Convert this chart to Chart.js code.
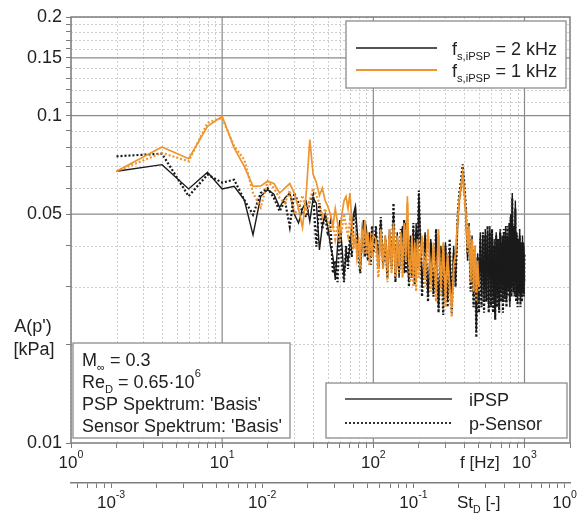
<!DOCTYPE html>
<html>
<head>
<meta charset="utf-8">
<script src="https://cdn.jsdelivr.net/npm/chart.js@4.4.0/dist/chart.umd.min.js"></script>
<style>
  body { margin: 0; background: #fff; }
  #spectrum { display: block; }
</style>
</head>
<body>
<canvas id="spectrum" width="581" height="515"></canvas>
<script>
// frequencies [Hz] of the plotted spectrum points
var freq2k = [2, 4, 6, 8, 10, 12, 14, 16, 18, 20, 22, 24, 26, 28, 30, 32, 34, 36, 38, 40,
    42, 44, 46, 48, 50, 52, 54, 56, 58, 60, 62, 64, 66, 68, 70, 72, 74, 76, 78, 80,
    82, 84, 86, 88, 90, 92, 94, 96, 98, 100,
    104, 108, 112, 116, 120, 124, 128, 132, 136, 140, 144, 148, 152, 156, 160, 164, 168, 172, 176, 180,
    184, 188, 192, 196, 200,
    210, 220, 230, 240, 250, 260, 270, 280, 290, 300, 310, 320, 330, 340, 350, 360, 370, 380, 390, 400,
    410, 420, 430, 440, 450, 460, 470, 480, 490, 500, 510, 520, 530, 540, 550, 560, 570, 580, 590, 600,
    610, 620, 630, 640, 650, 660, 670, 680, 690, 700, 710, 720, 730, 740, 750, 760, 770, 780, 790, 800,
    810, 820, 830, 840, 850, 860, 870, 880, 890, 900, 910, 920, 930, 940, 950, 960, 970, 980, 990, 1000];
var freq1k = freq2k.filter(function (f) { return f <= 500; });

// A(p') [kPa], f_s,iPSP = 2 kHz
var bPsp = [0.0676, 0.0708, 0.0597, 0.0671, 0.0597, 0.0608, 0.0553, 0.0432, 0.0567, 0.0594,
    0.0575, 0.0524, 0.056, 0.058, 0.050, 0.047, 0.052, 0.0547, 0.0475, 0.056,
    0.054, 0.0389, 0.046, 0.050, 0.046, 0.040, 0.0371, 0.0315, 0.040, 0.048,
    0.040, 0.0322, 0.038, 0.036, 0.040, 0.046, 0.050, 0.0528, 0.045, 0.040,
    0.0338, 0.040, 0.048, 0.042, 0.045, 0.039, 0.044, 0.038, 0.042, 0.040,
    0.044, 0.036, 0.048, 0.034, 0.043, 0.033, 0.045, 0.035, 0.050, 0.033,
    0.044, 0.032, 0.042, 0.046, 0.033, 0.047, 0.036, 0.031, 0.043, 0.033,
    0.045, 0.031, 0.047, 0.036, 0.057,
    0.030, 0.044, 0.028, 0.042, 0.029, 0.043, 0.026, 0.040, 0.028, 0.041,
    0.027, 0.039, 0.026, 0.040, 0.031, 0.046, 0.055, 0.060, 0.066, 0.058,
    0.050, 0.036, 0.047, 0.031, 0.043, 0.028, 0.040, 0.022, 0.038, 0.027,
    0.044, 0.028, 0.043, 0.027, 0.045, 0.029, 0.044, 0.026, 0.046, 0.028,
    0.043, 0.027, 0.042, 0.025, 0.044, 0.028, 0.041, 0.026, 0.045, 0.029,
    0.043, 0.027, 0.044, 0.028, 0.046, 0.027, 0.043, 0.029, 0.047, 0.026,
    0.050, 0.030, 0.058, 0.029, 0.046, 0.031, 0.055, 0.028, 0.044, 0.027,
    0.042, 0.029, 0.045, 0.027, 0.041, 0.028, 0.043, 0.029, 0.040, 0.031];
var bSen = [0.0751, 0.0765, 0.0567, 0.066, 0.0624, 0.0637, 0.0553, 0.0498, 0.058, 0.060,
    0.056, 0.051, 0.055, 0.0458, 0.058, 0.054, 0.051, 0.049, 0.055, 0.0573,
    0.0398, 0.054, 0.045, 0.050, 0.043, 0.047, 0.033, 0.036, 0.031, 0.046,
    0.035, 0.031, 0.040, 0.034, 0.043, 0.037, 0.048, 0.051, 0.040, 0.036,
    0.033, 0.042, 0.046, 0.037, 0.044, 0.036, 0.041, 0.035, 0.046, 0.038,
    0.046, 0.034, 0.049, 0.035, 0.042, 0.032, 0.043, 0.034, 0.054, 0.031,
    0.041, 0.033, 0.045, 0.034, 0.048, 0.033, 0.046, 0.030, 0.042, 0.032,
    0.047, 0.0305, 0.044, 0.034, 0.059,
    0.028, 0.043, 0.027, 0.041, 0.028, 0.045, 0.025, 0.039, 0.0246, 0.040,
    0.026, 0.042, 0.025, 0.038, 0.030, 0.048, 0.058, 0.063, 0.071, 0.062,
    0.052, 0.038, 0.045, 0.029, 0.042, 0.026, 0.039, 0.021, 0.037, 0.025,
    0.042, 0.026, 0.044, 0.025, 0.043, 0.027, 0.046, 0.025, 0.044, 0.026,
    0.045, 0.025, 0.040, 0.0238, 0.043, 0.026, 0.042, 0.025, 0.044, 0.027,
    0.041, 0.025, 0.045, 0.027, 0.043, 0.026, 0.046, 0.028, 0.042, 0.027,
    0.049, 0.028, 0.056, 0.030, 0.044, 0.028, 0.052, 0.027, 0.043, 0.026,
    0.040, 0.028, 0.043, 0.026, 0.040, 0.027, 0.0288, 0.041, 0.028, 0.038];

// A(p') [kPa], f_s,iPSP = 1 kHz
var oPsp = [0.0676, 0.0802, 0.0738, 0.0927, 0.0995, 0.0797, 0.070, 0.0608, 0.061, 0.063,
    0.062, 0.058, 0.060, 0.062, 0.058, 0.052, 0.0455, 0.058, 0.0845, 0.066,
    0.0625, 0.057, 0.060, 0.055, 0.0528, 0.050, 0.0458, 0.052, 0.047, 0.0439,
    0.050, 0.055, 0.0567, 0.052, 0.058, 0.048, 0.040, 0.042, 0.038, 0.041,
    0.0363, 0.045, 0.042, 0.048, 0.040, 0.044, 0.037, 0.042, 0.039, 0.043,
    0.042, 0.034, 0.045, 0.036, 0.043, 0.034, 0.045, 0.035, 0.047, 0.033,
    0.043, 0.035, 0.044, 0.034, 0.047, 0.038, 0.0567, 0.036, 0.033, 0.043,
    0.032, 0.041, 0.031, 0.042, 0.034,
    0.043, 0.032, 0.045, 0.031, 0.041, 0.029, 0.045, 0.030, 0.041, 0.028,
    0.038, 0.030, 0.026, 0.035, 0.038, 0.047, 0.056, 0.061, 0.067, 0.058,
    0.050, 0.040, 0.046, 0.033, 0.042, 0.031, 0.040, 0.029, 0.036, 0.030];
var oSen = [0.0676, 0.0769, 0.0725, 0.095, 0.0984, 0.0806, 0.0734, 0.058, 0.0524, 0.063,
    0.060, 0.056, 0.054, 0.059, 0.050, 0.052, 0.057, 0.051, 0.055, 0.060,
    0.057, 0.054, 0.049, 0.052, 0.048, 0.044, 0.047, 0.042, 0.046, 0.041,
    0.045, 0.050, 0.046, 0.043, 0.048, 0.042, 0.039, 0.043, 0.037, 0.040,
    0.034, 0.042, 0.039, 0.045, 0.038, 0.042, 0.035, 0.040, 0.037, 0.041,
    0.039, 0.032, 0.043, 0.034, 0.041, 0.031, 0.042, 0.033, 0.045, 0.032,
    0.041, 0.033, 0.042, 0.032, 0.045, 0.036, 0.054, 0.034, 0.031, 0.041,
    0.030, 0.039, 0.029, 0.040, 0.032,
    0.040, 0.030, 0.043, 0.029, 0.038, 0.027, 0.043, 0.028, 0.039, 0.026,
    0.036, 0.028, 0.0243, 0.033, 0.036, 0.044, 0.054, 0.059, 0.065, 0.056,
    0.048, 0.038, 0.044, 0.031, 0.040, 0.029, 0.038, 0.027, 0.034, 0.029];

// axes
var xTicks = [1, 2, 3, 4, 5, 6, 7, 8, 9, 10, 20, 30, 40, 50, 60, 70, 80, 90,
    100, 200, 300, 400, 500, 600, 700, 800, 900, 1000, 2000];
var xMajor = [10, 100, 1000];
var xLabels = [1, 10, 100, 1000];
var xLabelExp = ["0", "1", "2", "3"];
var yTicks = [0.01, 0.02, 0.03, 0.04, 0.05, 0.06, 0.07, 0.08, 0.09, 0.1,
    0.11, 0.12, 0.13, 0.14, 0.15, 0.16, 0.17, 0.18, 0.19, 0.2];
var yMajor = [0.05, 0.1, 0.15];
var yLabels = [0.01, 0.05, 0.1, 0.15, 0.2];
var stTicks = [0.0006, 0.0007, 0.0008, 0.0009, 0.001, 0.002, 0.003, 0.004, 0.005, 0.006, 0.007, 0.008, 0.009,
    0.01, 0.02, 0.03, 0.04, 0.05, 0.06, 0.07, 0.08, 0.09, 0.1, 0.2, 0.3, 0.4, 0.5, 0.6, 0.7, 0.8, 0.9, 1];
var stLabels = [0.001, 0.01, 0.1, 1];
var stLabelExp = ["-3", "-2", "-1", "0"];
var fMin = 1, fMax = 2000;
var stMin = 0.000543, stMax = 1.086;

var FONT = '"Liberation Sans", Arial, sans-serif';
var black = "#1a1a1a";
var orange = "#EE9530";

function points(fs, amps) {
    var pts = [];
    for (var i = 0; i < fs.length; i++) {
        pts.push({ x: fs[i], y: amps[i] });
    }
    return pts;
}

function setTicks(list) {
    return function (scale) {
        scale.ticks = list.map(function (v) { return { value: v }; });
    };
}

// draws text made of normal / sub / sup parts, returns width
function rich(ctx, parts, x, y, size, align) {
    var w = 0, i, p, fs;
    for (i = 0; i < parts.length; i++) {
        p = parts[i];
        fs = (p.sub || p.sup) ? size * 0.62 : size;
        ctx.font = fs + "px " + FONT;
        w += ctx.measureText(p.t).width;
    }
    var cx = align === "center" ? x - w / 2 : x;
    ctx.textAlign = "left";
    ctx.textBaseline = "alphabetic";
    for (i = 0; i < parts.length; i++) {
        p = parts[i];
        fs = (p.sub || p.sup) ? size * 0.62 : size;
        ctx.font = fs + "px " + FONT;
        var dy = p.sub ? size * 0.28 : (p.sup ? -size * 0.58 : 0);
        ctx.fillText(p.t, cx, y + dy);
        cx += ctx.measureText(p.t).width;
    }
    return w;
}

function box(ctx, x, y, w, h) {
    ctx.save();
    ctx.fillStyle = "#fff";
    ctx.fillRect(x, y, w, h);
    ctx.strokeStyle = "#8c8c8c";
    ctx.lineWidth = 1.3;
    ctx.strokeRect(x, y, w, h);
    ctx.restore();
}

function sample(ctx, x1, x2, y, color, width, dash) {
    ctx.save();
    ctx.beginPath();
    ctx.strokeStyle = color;
    ctx.lineWidth = width;
    ctx.setLineDash(dash);
    ctx.moveTo(x1, y);
    ctx.lineTo(x2, y);
    ctx.stroke();
    ctx.restore();
}

var decor = {
    id: "decor",
    beforeDatasetsDraw: function (chart) {
        var ctx = chart.ctx, a = chart.chartArea;
        var xs = chart.scales.x, ys = chart.scales.y;
        ctx.save();
        ctx.beginPath();
        ctx.rect(a.left, a.top, a.right - a.left, a.bottom - a.top);
        ctx.clip();
        // minor grid
        ctx.strokeStyle = "#cfcfcf";
        ctx.lineWidth = 1;
        ctx.setLineDash([2, 2]);
        xTicks.forEach(function (v) {
            if (xMajor.indexOf(v) >= 0) return;
            var px = Math.round(xs.getPixelForValue(v)) + 0.5;
            ctx.beginPath(); ctx.moveTo(px, a.top); ctx.lineTo(px, a.bottom); ctx.stroke();
        });
        yTicks.forEach(function (v) {
            if (yMajor.indexOf(v) >= 0) return;
            var py = Math.round(ys.getPixelForValue(v)) + 0.5;
            ctx.beginPath(); ctx.moveTo(a.left, py); ctx.lineTo(a.right, py); ctx.stroke();
        });
        // major grid
        ctx.setLineDash([]);
        ctx.strokeStyle = "#8a8a8a";
        ctx.lineWidth = 1.2;
        xMajor.forEach(function (v) {
            var px = xs.getPixelForValue(v);
            ctx.beginPath(); ctx.moveTo(px, a.top); ctx.lineTo(px, a.bottom); ctx.stroke();
        });
        yMajor.forEach(function (v) {
            var py = ys.getPixelForValue(v);
            ctx.beginPath(); ctx.moveTo(a.left, py); ctx.lineTo(a.right, py); ctx.stroke();
        });
        ctx.restore();
    },
    afterDatasetsDraw: function (chart) {
        var ctx = chart.ctx, a = chart.chartArea;
        var xs = chart.scales.x, x2 = chart.scales.x2;
        ctx.save();
        ctx.strokeStyle = "#7c7c7c";
        ctx.lineWidth = 1.5;
        ctx.strokeRect(a.left, a.top, a.right - a.left, a.bottom - a.top);

        ctx.fillStyle = "#222";
        // tick labels with exponents
        xLabels.forEach(function (v, i) {
            rich(ctx, [{ t: "10" }, { t: xLabelExp[i], sup: true }], xs.getPixelForValue(v), 467.5, 17, "center");
        });
        stLabels.forEach(function (v, i) {
            rich(ctx, [{ t: "10" }, { t: stLabelExp[i], sup: true }], x2.getPixelForValue(v), 508, 17, "center");
        });
        rich(ctx, [{ t: "f [Hz]" }], 460, 467.5, 17);
        rich(ctx, [{ t: "St" }, { t: "D", sub: true }, { t: " [-]" }], 457, 508, 17);

        // y axis title
        ctx.font = "18px " + FONT;
        ctx.textAlign = "center";
        ctx.fillText("A(p')", 33, 332);
        ctx.fillText("[kPa]", 34, 355);

        // sampling rate legend
        box(ctx, 346, 21, 220, 67);
        sample(ctx, 356, 437, 48, black, 1.5, []);
        sample(ctx, 356, 437, 70, orange, 1.8, []);
        ctx.fillStyle = "#222";
        rich(ctx, [{ t: "f" }, { t: "s,iPSP", sub: true }, { t: " = 2 kHz" }], 452, 54.5, 18);
        rich(ctx, [{ t: "f" }, { t: "s,iPSP", sub: true }, { t: " = 1 kHz" }], 452, 76.5, 18);

        // line style legend
        box(ctx, 326, 383, 241, 55);
        sample(ctx, 345, 452, 399, "#333", 1.5, []);
        sample(ctx, 345, 452, 423, "#333", 2, [2, 2]);
        ctx.fillStyle = "#222";
        rich(ctx, [{ t: "iPSP" }], 469, 405.5, 18);
        rich(ctx, [{ t: "p-Sensor" }], 469, 429.5, 18);

        // case info
        box(ctx, 73, 343, 217, 95);
        ctx.fillStyle = "#222";
        rich(ctx, [{ t: "M" }, { t: "\u221e", sub: true }, { t: " = 0.3" }], 82, 365.5, 18);
        rich(ctx, [{ t: "Re" }, { t: "D", sub: true }, { t: " = 0.65\u00b710" }, { t: "6", sup: true }], 82, 387.5, 18);
        rich(ctx, [{ t: "PSP Spektrum: 'Basis'" }], 82, 409.5, 18);
        rich(ctx, [{ t: "Sensor Spektrum: 'Basis'" }], 82, 432, 18);
        ctx.restore();
    }
};

new Chart(document.getElementById("spectrum"), {
    type: "line",
    data: {
        datasets: [{
            data: points(freq1k, oSen),
            borderColor: orange, borderWidth: 2.2, borderDash: [2, 2],
            pointRadius: 0, tension: 0, fill: false, order: 0
        }, {
            data: points(freq1k, oPsp),
            borderColor: orange, borderWidth: 1.7,
            pointRadius: 0, tension: 0, fill: false, order: 1
        }, {
            data: points(freq2k, bSen),
            borderColor: black, borderWidth: 2.2, borderDash: [2, 2],
            pointRadius: 0, tension: 0, fill: false, order: 2
        }, {
            data: points(freq2k, bPsp),
            borderColor: black, borderWidth: 1.4,
            pointRadius: 0, tension: 0, fill: false, order: 3
        }]
    },
    options: {
        responsive: false,
        animation: false,
        layout: { padding: { top: 17, right: 11, left: 0, bottom: 0 } },
        plugins: { legend: { display: false }, tooltip: { enabled: false } },
        scales: {
            x: {
                type: "logarithmic", position: "bottom", min: fMin, max: fMax, weight: 0,
                afterBuildTicks: setTicks(xTicks),
                afterFit: function (s) { s.height = 40; },
                grid: { drawOnChartArea: false, drawTicks: true, tickLength: 5, tickColor: "#7c7c7c" },
                border: { display: false },
                ticks: { autoSkip: false, maxRotation: 0, callback: function () { return ""; } }
            },
            x2: {
                type: "logarithmic", position: "bottom", min: stMin, max: stMax, weight: 1,
                afterBuildTicks: setTicks(stTicks),
                afterFit: function (s) { s.height = 32; },
                grid: { drawOnChartArea: false, drawTicks: true, tickLength: 5, tickColor: "#7c7c7c" },
                border: { display: true, color: "#7c7c7c", width: 1.5 },
                ticks: { autoSkip: false, maxRotation: 0, callback: function () { return ""; } }
            },
            y: {
                type: "logarithmic", position: "left", min: 0.01, max: 0.2,
                afterBuildTicks: setTicks(yTicks),
                afterFit: function (s) { s.width = 71; },
                grid: { drawOnChartArea: false, drawTicks: true, tickLength: 5, tickColor: "#7c7c7c" },
                border: { display: false },
                ticks: {
                    autoSkip: false, padding: 4, color: "#222",
                    font: { family: FONT, size: 18 },
                    callback: function (v) { return yLabels.indexOf(v) >= 0 ? String(v) : ""; }
                }
            }
        }
    },
    plugins: [decor]
});
</script>
</body>
</html>
